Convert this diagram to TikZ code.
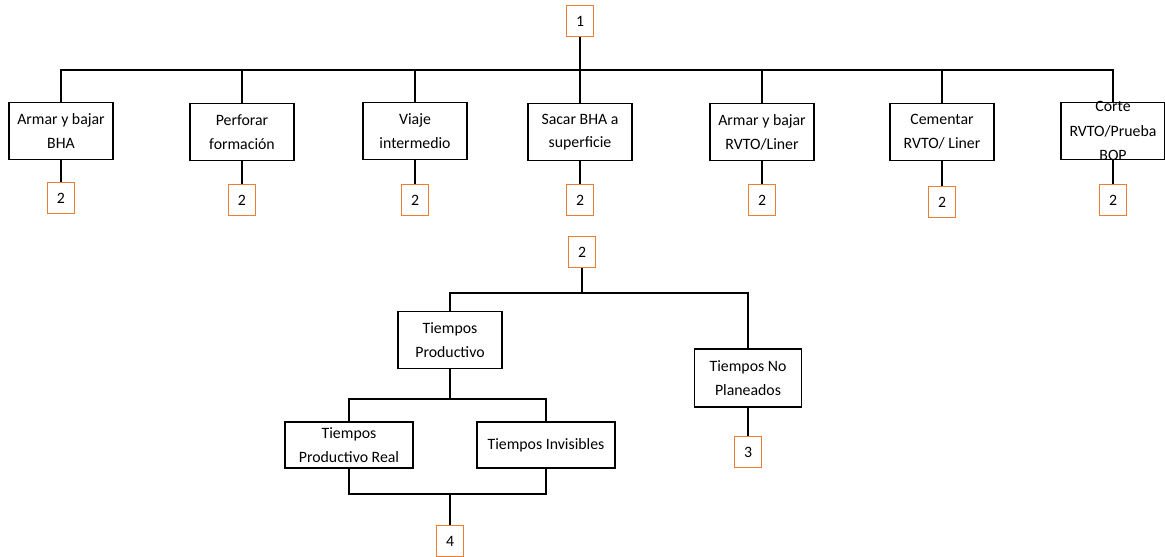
\documentclass[tikz,border=0pt]{standalone}
\usepackage{fontspec}
\setmainfont{Carlito}
\definecolor{refline}{RGB}{237,125,49}
\tikzset{
    task/.style={
        draw,
        line width=0.8pt,
        minimum width=2.08cm,
        minimum height=1.14cm,
        inner sep=1pt,
        align=center,
        font=\fontsize{9}{13.5}\selectfont
    },
    ref/.style={
        draw=refline,
        line width=1.1pt,
        minimum width=0.54cm,
        minimum height=0.62cm,
        inner sep=0pt,
        font=\fontsize{9}{11}\selectfont
    }
}

\begin{document}
\begin{tikzpicture}[x=0.02cm,y=-0.02cm,line width=0.8pt]
\useasboundingbox (0,0) rectangle (1165,556);
% first level
\node[ref] (top) at (580,21) {1};
\coordinate (bus) at (580,70);
\node[task] (a1) at (61,131) {Armar y bajar\\BHA};
\node[task] (a2) at (242,132) {Perforar\\formación};
\node[task] (a3) at (415,131) {Viaje\\intermedio};
\node[task] (a4) at (580,132) {Sacar BHA a\\superficie};
\node[task] (a5) at (762,132) {Armar y bajar\\RVTO/Liner};
\node[task] (a6) at (942,132) {Cementar\\RVTO/ Liner};
\node[task,inner ysep=-4pt,font=\fontsize{9}{14}\selectfont] (a7) at (1113,131) {Corte\\RVTO/Prueba\\BOP};
\node[ref] (r1) at (61,198) {2};
\node[ref] (r2) at (242,200) {2};
\node[ref] (r3) at (415,200) {2};
\node[ref] (r4) at (580,200) {2};
\node[ref] (r5) at (762,200) {2};
\node[ref] (r6) at (942,202) {2};
\node[ref] (r7) at (1113,200) {2};
\draw (top) -- (bus);
\draw (a1.north) |- (a7.north |- bus) -- (a7.north);
\foreach \i in {2,...,6}
  \draw (a\i.north) -- (a\i.north |- bus);
\foreach \i in {1,...,7}
  \draw (a\i.south) -- (r\i.north);
% second level
\node[ref] (s2) at (582,252) {2};
\coordinate (bus2) at (582,293);
\node[task] (tp) at (450,340) {Tiempos\\Productivo};
\node[task,minimum width=2.14cm,minimum height=1.16cm] (tnp) at (748,378) {Tiempos No\\Planeados};
\coordinate (bus3) at (450,399);
\node[task,minimum width=2.56cm,minimum height=0.92cm] (tpr) at (349,445) {Tiempos\\Productivo Real};
\node[task,minimum width=2.76cm,minimum height=0.92cm] (ti) at (546,445) {Tiempos Invisibles};
\coordinate (join) at (450,494);
\node[ref] (q3) at (748,452) {3};
\node[ref] (q4) at (450,541) {4};
\draw (s2) -- (bus2);
\draw (tp.north) |- (tnp.north |- bus2) -- (tnp.north);
\draw (tp.south) -- (bus3);
\draw (tpr.north) |- (ti.north |- bus3) -- (ti.north);
\draw (tpr.south) |- (ti.south |- join) -- (ti.south);
\draw (join) -- (q4);
\draw (tnp) -- (q3);
\end{tikzpicture}
\end{document}
